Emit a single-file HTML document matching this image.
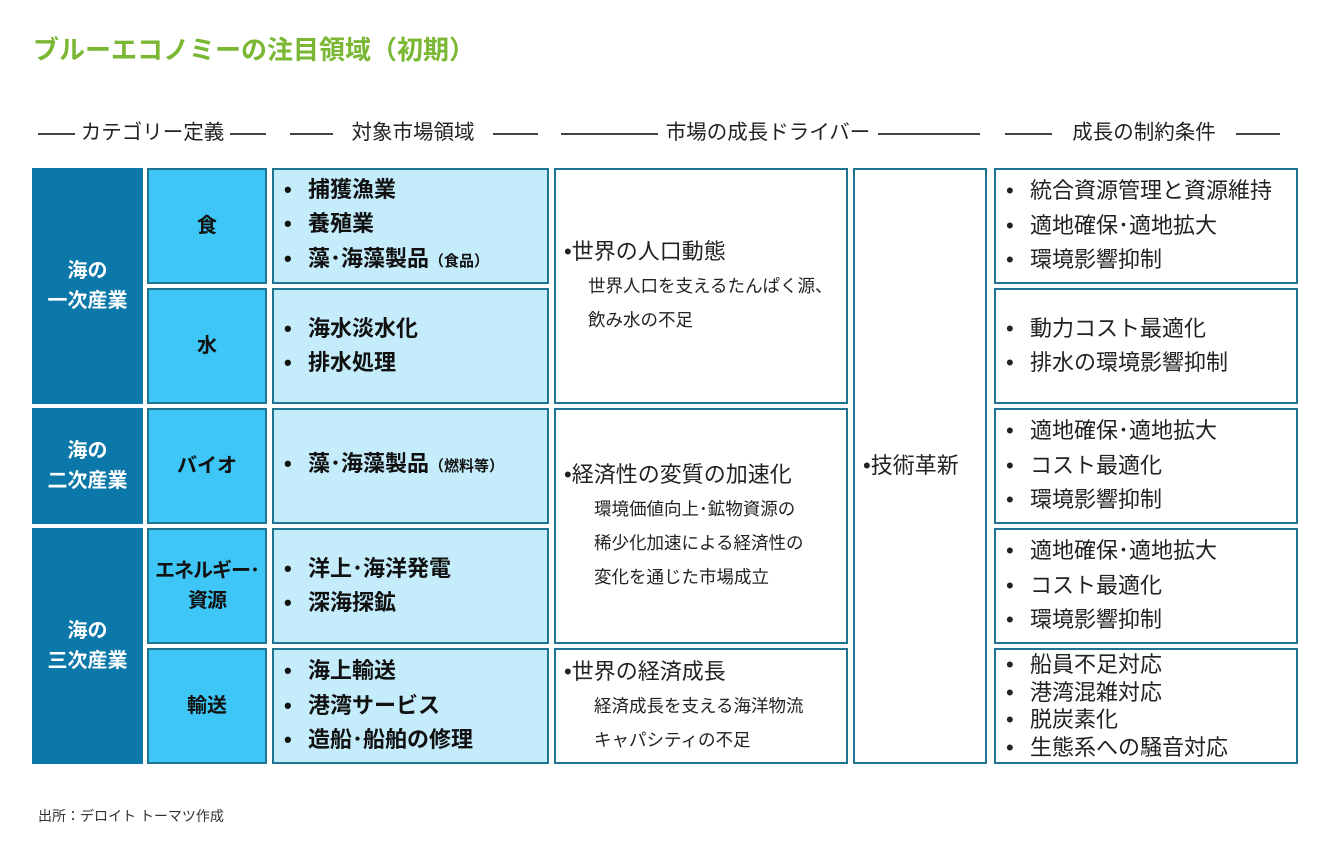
<!DOCTYPE html>
<html><head><meta charset="utf-8"><style>
*{margin:0;padding:0;box-sizing:border-box}
body{width:1329px;height:846px;background:#fff;position:relative;overflow:hidden;font-family:"Liberation Sans","Noto Sans CJK JP",sans-serif;color:#222}
.a{position:absolute}
.ln{position:absolute;height:1.5px;background:#444;top:133px}
.h{position:absolute;top:119px;font-size:20.5px;line-height:28px;white-space:nowrap;color:#222;text-align:center}
.c1{position:absolute;background:#0c77a9;color:#fff;font-weight:bold;font-size:20px;line-height:30px;display:flex;align-items:center;justify-content:center;text-align:center}
.c2{position:absolute;background:#3ec6f6;border:2px solid #1f7393;color:#111;font-weight:bold;font-size:20px;line-height:30px;display:flex;align-items:center;justify-content:center;text-align:center;white-space:nowrap}
.c3{position:absolute;background:#c4ecfb;border:2px solid #1f7393;font-weight:bold;font-size:22px;line-height:34.5px;display:flex;flex-direction:column;justify-content:center;padding-left:10px;color:#111;white-space:nowrap}
.w{position:absolute;background:#fff;border:2px solid #1f7393;display:flex;flex-direction:column;justify-content:center;padding-left:10px;font-size:22px;line-height:34.5px;color:#222;white-space:nowrap}
.b{display:inline-block;width:24px}
small{font-size:15px}
.sub{font-size:17.5px;padding-left:24px;line-height:34px}
</style></head><body>
<div class="a" style="left:33px;top:30px;font-size:26px;font-weight:bold;color:#7ab733;line-height:40px;white-space:nowrap">ブルーエコノミーの注目領域（初期）</div>

<div class="ln" style="left:38px;width:37px"></div><div class="h" style="left:75px;width:155px">カテゴリー定義</div><div class="ln" style="left:230px;width:36px"></div>
<div class="ln" style="left:290px;width:43px"></div><div class="h" style="left:333px;width:160px">対象市場領域</div><div class="ln" style="left:493px;width:45px"></div>
<div class="ln" style="left:561px;width:97px"></div><div class="h" style="left:658px;width:220px">市場の成長ドライバー</div><div class="ln" style="left:878px;width:102px"></div>
<div class="ln" style="left:1005px;width:47px"></div><div class="h" style="left:1052px;width:184px">成長の制約条件</div><div class="ln" style="left:1236px;width:44px"></div>

<div class="c1" style="left:32px;top:168px;width:111px;height:236px">海の<br>一次産業</div>
<div class="c1" style="left:32px;top:408px;width:111px;height:116px">海の<br>二次産業</div>
<div class="c1" style="left:32px;top:528px;width:111px;height:236px">海の<br>三次産業</div>

<div class="c2" style="left:147px;top:168px;width:120px;height:116px">食</div>
<div class="c2" style="left:147px;top:288px;width:120px;height:116px">水</div>
<div class="c2" style="left:147px;top:408px;width:120px;height:116px">バイオ</div>
<div class="c2" style="left:147px;top:528px;width:120px;height:116px;letter-spacing:-1px">エネルギー･<br>資源</div>
<div class="c2" style="left:147px;top:648px;width:120px;height:116px">輸送</div>

<div class="c3" style="left:272px;top:168px;width:277px;height:116px"><div><span class="b">•</span>捕獲漁業</div><div><span class="b">•</span>養殖業</div><div><span class="b">•</span>藻･海藻製品<small>（食品）</small></div></div>
<div class="c3" style="left:272px;top:288px;width:277px;height:116px"><div><span class="b">•</span>海水淡水化</div><div><span class="b">•</span>排水処理</div></div>
<div class="c3" style="left:272px;top:408px;width:277px;height:116px"><div><span class="b">•</span>藻･海藻製品<small>（燃料等）</small></div></div>
<div class="c3" style="left:272px;top:528px;width:277px;height:116px"><div><span class="b">•</span>洋上･海洋発電</div><div><span class="b">•</span>深海探鉱</div></div>
<div class="c3" style="left:272px;top:648px;width:277px;height:116px"><div><span class="b">•</span>海上輸送</div><div><span class="b">•</span>港湾サービス</div><div><span class="b">•</span>造船･船舶の修理</div></div>

<div class="w" style="left:554px;top:168px;width:294px;height:236px;padding-left:8px"><div>•世界の人口動態</div><div class="sub">世界人口を支えるたんぱく源、</div><div class="sub">飲み水の不足</div></div>
<div class="w" style="left:554px;top:408px;width:294px;height:236px;padding-left:8px"><div>•経済性の変質の加速化</div><div class="sub" style="padding-left:30px">環境価値向上･鉱物資源の</div><div class="sub" style="padding-left:30px">稀少化加速による経済性の</div><div class="sub" style="padding-left:30px">変化を通じた市場成立</div></div>
<div class="w" style="left:554px;top:648px;width:294px;height:116px;padding-left:8px"><div>•世界の経済成長</div><div class="sub" style="padding-left:30px">経済成長を支える海洋物流</div><div class="sub" style="padding-left:30px">キャパシティの不足</div></div>

<div class="w" style="left:853px;top:168px;width:134px;height:596px;padding-left:8px"><div>•技術革新</div></div>

<div class="w" style="left:994px;top:168px;width:304px;height:116px"><div><span class="b">•</span>統合資源管理と資源維持</div><div><span class="b">•</span>適地確保･適地拡大</div><div><span class="b">•</span>環境影響抑制</div></div>
<div class="w" style="left:994px;top:288px;width:304px;height:116px"><div><span class="b">•</span>動力コスト最適化</div><div><span class="b">•</span>排水の環境影響抑制</div></div>
<div class="w" style="left:994px;top:408px;width:304px;height:116px"><div><span class="b">•</span>適地確保･適地拡大</div><div><span class="b">•</span>コスト最適化</div><div><span class="b">•</span>環境影響抑制</div></div>
<div class="w" style="left:994px;top:528px;width:304px;height:116px"><div><span class="b">•</span>適地確保･適地拡大</div><div><span class="b">•</span>コスト最適化</div><div><span class="b">•</span>環境影響抑制</div></div>
<div class="w" style="left:994px;top:648px;width:304px;height:116px;line-height:27.5px"><div><span class="b">•</span>船員不足対応</div><div><span class="b">•</span>港湾混雑対応</div><div><span class="b">•</span>脱炭素化</div><div><span class="b">•</span>生態系への騒音対応</div></div>

<div class="a" style="left:38px;top:806px;font-size:14px;line-height:20px;color:#333">出所：デロイト トーマツ作成</div>
</body></html>
